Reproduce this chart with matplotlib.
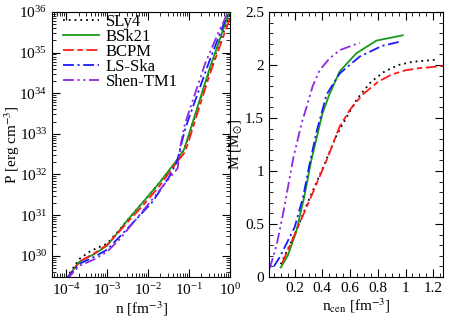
import numpy as np
import matplotlib
matplotlib.use("Agg")
import matplotlib.pyplot as plt
from matplotlib.ticker import MultipleLocator, FuncFormatter, LogLocator, NullFormatter

plt.rcParams['font.family'] = ['Liberation Serif', 'DejaVu Serif']
plt.rcParams['mathtext.fontset'] = 'stix'

# EOS labels and styles
names = ["SLy4", "BSk21", "BCPM", "LS-Ska", "Shen-TM1"]
colors = ["black", "#1a9a1a", "#ff1a1a", "#1a1aff", "#8a2be2"]
styles = [(0, (1, 2.2)), "-", (0, (6, 2, 3, 2)), (0, (6, 2, 1.2, 2)),
          (0, (6, 2, 1.2, 2, 1.2, 2))]

# left panel: log10 n [fm^-3] and log10 P [erg cm^-3]
logn_sly4 = [-4.0, -3.68, -3.4, -3.0, -2.7, -2.5, -2.14, -1.72, -1.3, -1.12, -1.0, -0.5, 0.0]
logp_sly4 = [29.45, 29.92, 30.12, 30.3, 30.64, 30.88, 31.3, 31.8, 32.33, 32.62, 32.97, 34.55, 35.95]
logn_bsk21 = [-4.0, -3.68, -3.3, -3.0, -2.7, -2.5, -2.14, -1.72, -1.3, -1.12, -1.0, -0.5, 0.0]
logp_bsk21 = [29.42, 29.85, 30.05, 30.25, 30.62, 30.88, 31.3, 31.8, 32.35, 32.62, 33.0, 34.6, 36.05]
logn_bcpm = [-4.0, -3.68, -3.3, -3.0, -2.7, -2.5, -2.14, -1.72, -1.3, -1.1, -1.0, -0.5, 0.0]
logp_bcpm = [29.42, 29.85, 30.07, 30.27, 30.6, 30.83, 31.22, 31.72, 32.3, 32.55, 32.85, 34.45, 35.85]
logn_lsska = [-4.0, -3.68, -3.3, -3.0, -2.53, -1.89, -1.48, -1.3, -1.2, -1.1, -1.0, -0.5, 0.0]
logp_lsska = [29.42, 29.8, 29.98, 30.15, 30.64, 31.33, 31.95, 32.3, 32.7, 33.1, 33.4, 34.8, 36.1]
logn_shen = [-4.0, -3.68, -3.3, -3.0, -2.7, -2.21, -1.65, -1.28, -1.2, -1.1, -1.0, -0.6, -0.3, 0.0]
logp_shen = [29.4, 29.75, 29.92, 30.1, 30.4, 31.0, 31.7, 32.15, 32.75, 33.25, 33.55, 34.75, 35.45, 36.1]

# right panel: central density [fm^-3] and mass [Msun]
ncen_sly4 = [0.10, 0.2, 0.3, 0.42, 0.5, 0.58, 0.65, 0.75, 0.85, 0.95, 1.05, 1.22]
mass_sly4 = [0.12, 0.40, 0.72, 1.08, 1.33, 1.52, 1.68, 1.84, 1.94, 2.0, 2.03, 2.05]
ncen_bsk21 = [0.10, 0.15, 0.21, 0.27, 0.32, 0.40, 0.45, 0.525, 0.645, 0.79, 0.98]
mass_bsk21 = [0.09, 0.2, 0.42, 0.76, 1.10, 1.54, 1.72, 1.94, 2.11, 2.23, 2.28]
ncen_bcpm = [0.11, 0.2, 0.3, 0.43, 0.525, 0.6, 0.69, 0.8, 0.9, 1.0, 1.1, 1.27]
mass_bcpm = [0.13, 0.40, 0.70, 1.10, 1.42, 1.58, 1.72, 1.84, 1.91, 1.95, 1.97, 1.99]
ncen_lsska = [0.05, 0.094, 0.2, 0.26, 0.31, 0.36, 0.43, 0.525, 0.67, 0.83, 0.96]
mass_lsska = [0.10, 0.19, 0.47, 0.75, 1.08, 1.38, 1.72, 1.92, 2.08, 2.18, 2.22]
ncen_shen = [0.02, 0.07, 0.12, 0.19, 0.25, 0.29, 0.33, 0.38, 0.45, 0.525, 0.67]
mass_shen = [0.08, 0.3, 0.62, 1.12, 1.45, 1.62, 1.80, 1.95, 2.06, 2.14, 2.21]

# major tick positions
n_ticks = [1e-4, 1e-3, 1e-2, 1e-1, 1e0]
p_ticks = [1e30, 1e31, 1e32, 1e33, 1e34, 1e35, 1e36]

eos_logn = [logn_sly4, logn_bsk21, logn_bcpm, logn_lsska, logn_shen]
eos_logp = [logp_sly4, logp_bsk21, logp_bcpm, logp_lsska, logp_shen]
mr_n = [ncen_sly4, ncen_bsk21, ncen_bcpm, ncen_lsska, ncen_shen]
mr_m = [mass_sly4, mass_bsk21, mass_bcpm, mass_lsska, mass_shen]

fig = plt.figure(figsize=(4.49, 3.22), dpi=100)
ax1 = fig.add_axes([0.1158, 0.1398, 0.3964, 0.823])
ax2 = fig.add_axes([0.5991, 0.1398, 0.3875, 0.823])

for i in range(5):
    ax1.plot(10**np.array(eos_logn[i]), 10**np.array(eos_logp[i]), color=colors[i],
             linestyle=styles[i], lw=1.3, label=names[i])
    ax2.plot(mr_n[i], mr_m[i], color=colors[i], linestyle=styles[i], lw=1.3)

ax1.set_xscale('log')
ax1.set_yscale('log')
ax1.set_xticks(n_ticks)
ax1.set_yticks(p_ticks)
ax1.xaxis.set_minor_locator(LogLocator(base=10, subs=np.arange(2, 10), numticks=10))
ax1.yaxis.set_minor_locator(LogLocator(base=10, subs=np.arange(2, 10), numticks=10))
ax1.xaxis.set_minor_formatter(NullFormatter())
ax1.yaxis.set_minor_formatter(NullFormatter())
ax1.set_xlim(4.5e-5, 1.0)
ax1.set_ylim(3.0e29, 1e36)
ax1.set_xlabel(r"n [fm$^{-3}$]", fontsize=11, labelpad=1)
ax1.set_ylabel(r"P [erg cm$^{-3}$]", fontsize=11)
ax1.yaxis.set_label_coords(-0.17, 0.5)
ax1.legend(loc='upper left', frameon=False, fontsize=12, handlelength=2.2,
           labelspacing=-0.06, borderaxespad=0.0, handletextpad=0.4,
           borderpad=0.1, bbox_to_anchor=(0.05, 1.0))

ax2.set_xlim(0.015, 1.27)
ax2.set_ylim(0, 2.5)
ax2.xaxis.set_major_locator(MultipleLocator(0.2))
ax2.xaxis.set_minor_locator(MultipleLocator(0.05))
ax2.yaxis.set_major_locator(MultipleLocator(0.5))
ax2.yaxis.set_minor_locator(MultipleLocator(0.1))
fmt = FuncFormatter(lambda v, p: "%g" % round(v, 2))
ax2.xaxis.set_major_formatter(fmt)
ax2.yaxis.set_major_formatter(fmt)
ax2.set_xlabel(r"n$_{\rm cen}$ [fm$^{-3}$]", fontsize=11, labelpad=1)
ax2.set_ylabel(r"M [M$_{\odot}$]", fontsize=11, labelpad=1)

for ax in (ax1, ax2):
    ax.tick_params(which='both', direction='in', top=True, right=True, labelsize=11)
    ax.tick_params(which='major', length=6, width=0.8)
    ax.tick_params(which='minor', length=3, width=0.6)

fig.savefig("out.png", dpi=100)
